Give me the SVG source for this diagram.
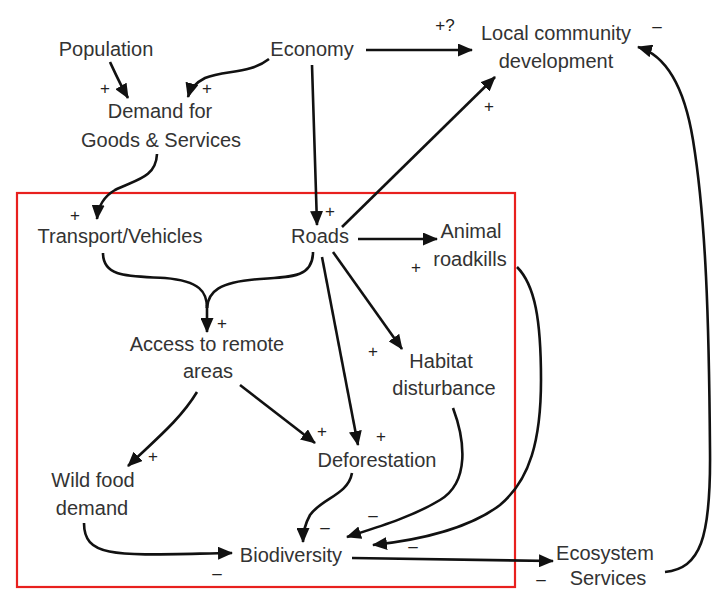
<svg xmlns="http://www.w3.org/2000/svg" width="716" height="589" viewBox="0 0 716 589">
<style>
.n{font-family:"Liberation Sans",Arial,sans-serif;font-size:20px;fill:#333;text-anchor:middle}
.s{font-family:"Liberation Sans",Arial,sans-serif;font-size:17px;fill:#222;text-anchor:middle}
.c{fill:none;stroke:#111;stroke-width:2.6;marker-end:url(#ah)}
</style>
<defs>
<marker id="ah" markerUnits="userSpaceOnUse" markerWidth="15" markerHeight="13" refX="14" refY="6.5" orient="auto">
<path d="M0,0 L15,6.5 L0,13 z" fill="#111"/>
</marker>
</defs>
<rect x="0" y="0" width="716" height="589" fill="#fff"/>
<rect id="boundary" x="17" y="193" width="498" height="394" fill="none" stroke="#e8201e" stroke-width="2.2"/>
<g id="connectors">
<path class="c" d="M110,62 C116,75 121,86 128,98"/>
<path class="c" d="M269,59 C250,74 225,70 205,78 C195,83 190,90 188,97"/>
<path class="c" d="M366,50 L472,50"/>
<path class="c" d="M312,65 L317,225"/>
<path class="c" d="M157,154 C156,178 135,180 115,190 C103,197 98,207 97,219"/>
<path fill="none" stroke="#111" stroke-width="2.6" d="M103,253 C103,278 130,276 165,278 C200,281 207,292 207,308"/>
<path fill="none" stroke="#111" stroke-width="2.6" d="M313,252 C313,276 295,277 260,279 C218,282 208,292 207,308"/>
<path class="c" d="M207,305 L207,332"/>
<path class="c" d="M342,227 L495,77"/>
<path class="c" d="M358,239 L437,239"/>
<path class="c" d="M333,252 L402,349"/>
<path class="c" d="M322,257 L358,445"/>
<path class="c" d="M197,392 C180,420 155,440 128,466"/>
<path class="c" d="M240,385 L315,443"/>
<path class="c" d="M352,473 C348,495 322,498 310,515 C305,524 303,533 303,542"/>
<path class="c" d="M453,408 C465,440 470,482 440,500 C412,517 378,527 347,537"/>
<path class="c" d="M517,267 C535,285 541,320 541,380 C541,440 530,480 500,505 C470,528 420,540 373,545"/>
<path class="c" d="M352,558 L553,561"/>
<path class="c" d="M84,523 C84,560 120,555 232,553"/>
<path class="c" d="M665,572 C700,568 711,540 710,450 C709,320 706,220 693,140 C684,85 665,55 638,47"/>
</g>
<g id="population"><text class="n" x="106" y="56">Population</text></g>
<g id="economy"><text class="n" x="312" y="56">Economy</text></g>
<g id="demand"><text class="n" x="160" y="118">Demand for</text><text class="n" x="161" y="147">Goods &amp; Services</text></g>
<g id="local-community"><text class="n" x="556" y="40">Local community</text><text class="n" x="556" y="68">development</text></g>
<g id="transport"><text class="n" x="120" y="243">Transport/Vehicles</text></g>
<g id="roads"><text class="n" x="320" y="243">Roads</text></g>
<g id="roadkills"><text class="n" x="471" y="238">Animal</text><text class="n" x="470" y="266">roadkills</text></g>
<g id="access"><text class="n" x="207" y="351">Access to remote</text><text class="n" x="208" y="378">areas</text></g>
<g id="habitat"><text class="n" x="441" y="368">Habitat</text><text class="n" x="444" y="395">disturbance</text></g>
<g id="deforestation"><text class="n" x="377" y="467">Deforestation</text></g>
<g id="wildfood"><text class="n" x="93" y="487">Wild food</text><text class="n" x="92" y="515">demand</text></g>
<g id="biodiversity"><text class="n" x="291" y="562">Biodiversity</text></g>
<g id="ecosystem"><text class="n" x="605" y="560">Ecosystem</text><text class="n" x="608" y="585">Services</text></g>
<g id="signs">
<text class="s" x="105" y="94">+</text>
<text class="s" x="207" y="94">+</text>
<text class="s" x="445" y="31">+?</text>
<text class="s" x="657" y="32">–</text>
<text class="s" x="489" y="112">+</text>
<text class="s" x="75" y="221">+</text>
<text class="s" x="330" y="217">+</text>
<text class="s" x="416" y="273">+</text>
<text class="s" x="222" y="329">+</text>
<text class="s" x="373" y="357">+</text>
<text class="s" x="322" y="437">+</text>
<text class="s" x="381" y="442">+</text>
<text class="s" x="153" y="462">+</text>
<text class="s" x="325" y="533">–</text>
<text class="s" x="373" y="521">–</text>
<text class="s" x="413" y="552">–</text>
<text class="s" x="217" y="579">–</text>
<text class="s" x="541" y="585">–</text>
</g>
</svg>
